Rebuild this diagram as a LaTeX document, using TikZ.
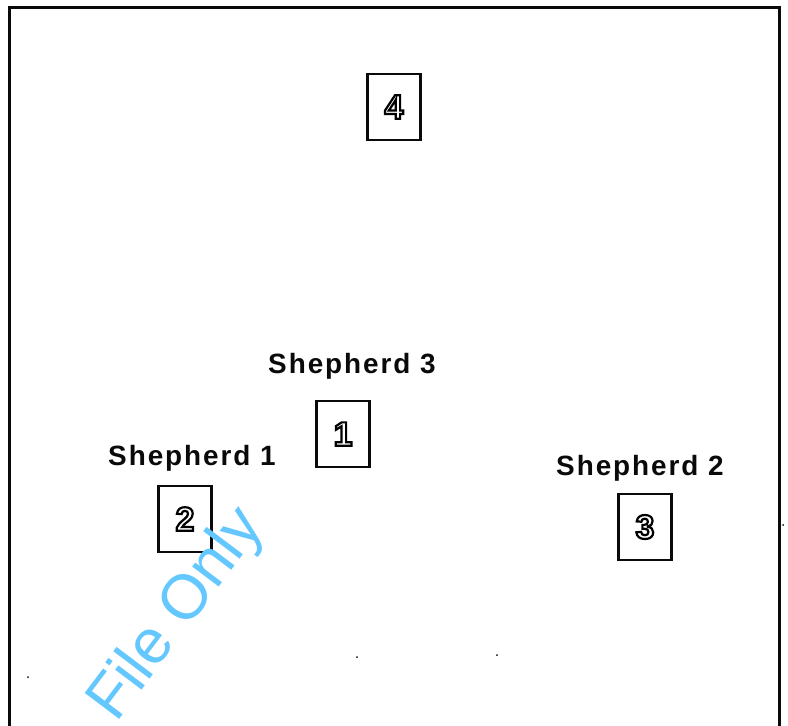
\documentclass[tikz,border=0pt]{standalone}
\usepackage{fontspec}
\setmainfont{Liberation Sans}
\newfontfamily\shepfont{Liberation Sans}[LetterSpace=7]
\usepackage{xcolor}
\usepackage{tikz}
\usetikzlibrary{calc,positioning}
\definecolor{inkblack}{RGB}{10,10,10}
\definecolor{markblue}{RGB}{100,200,255}
\newcommand{\hollownum}[1]{\special{pdf:code 2.2 w 0 0 0 RG 2 Tr}#1\special{pdf:code 0 Tr}}
\tikzset{
  framebox/.style={draw=inkblack, line width=3bp},
  bay/.style={draw=inkblack, line width=2.3bp, minimum width=53bp, minimum height=66bp, inner sep=0pt},
  digit/.style={font=\fontsize{34}{34}\selectfont\bfseries, text=white, inner sep=0pt},
  shepherd/.style={font=\shepfont\fontsize{28}{30}\selectfont\bfseries, text=inkblack, inner sep=0pt, anchor=base},
  watermark/.style={font=\fontsize{63}{65}\selectfont, text=markblue, anchor=base west, inner sep=0pt, rotate=53},
  speck/.style={fill=inkblack, circle, inner sep=0pt, minimum size=2bp}
}
\begin{document}
\begin{tikzpicture}[x=1bp, y=-1bp]
\useasboundingbox (0,0) rectangle (788,726);
\fill[white] (0,0) rectangle (788,726);
% open frame
\coordinate (fl) at (9,726);
\coordinate (fr) at (779,726);
\draw[framebox] (fl) -- (9,8) -- (779,8) -- (fr);

% boxes with hollow digits
\foreach \n/\x/\y in {4/394/107, 1/343/434, 2/185/519, 3/645/527} {
  \node[bay] (box\n) at (\x,\y) {};
  \node[digit] (num\n) at (box\n) {\hollownum{\n}};
}

% labels
\node[shepherd] (s3) at (352,373) {Shepherd 3};
\node[shepherd] (s1) at (192,465) {Shepherd 1};
\node[shepherd] (s2) at (640,475) {Shepherd 2};

% specks
\node[speck] (k1) at (783,525) {};
\node[speck] (k2) at (357,657) {};
\node[speck] (k3) at (497,655) {};
\node[speck] (k4) at (28,677) {};

% watermark
\node[watermark] (wm) at (116,724) {File Only};
\end{tikzpicture}
\end{document}
